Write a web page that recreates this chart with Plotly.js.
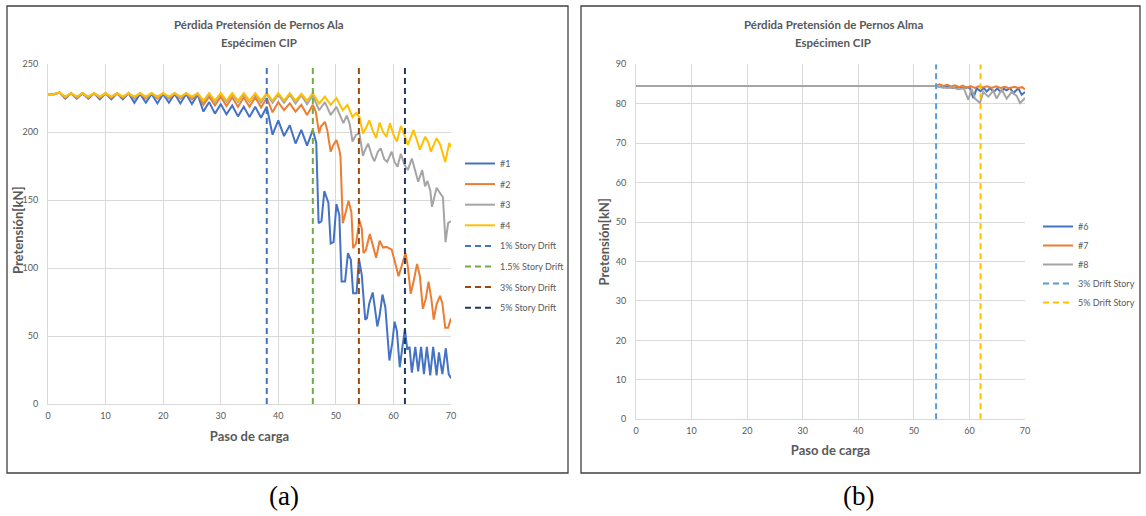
<!DOCTYPE html>
<html>
<head>
<meta charset="utf-8">
<script src="https://cdn.plot.ly/plotly-3.0.1.min.js"></script>
<style>
html,body{margin:0;padding:0;background:#fff;}
#chart{width:1146px;height:516px;}
</style>
</head>
<body>
<div id="chart"></div>
<script>
// ---------------- DATA ----------------
// Panel (a): Pérdida Pretensión de Pernos Ala
const a1x = [0,1,2,3,4,5,6,7,8,9,10,11,12,13,14,15,16,17,18,19,20,21,22,23,24,25,26,27,28,29,30,31,32,33,34,35,36,37,38,39,40,41,42,43,44,45,46,
  46.6,47,47.5,48,48.4,48.7,49.1,49.6,50.1,50.6,51,51.6,52.1,52.6,53,53.6,54,54.5,55.1,55.4,55.8,56.4,56.8,57.2,57.6,58.1,58.6,59,59.3,59.8,
  60.2,60.6,61.1,61.5,62,62.4,62.8,63.2,63.8,64.3,64.8,65.3,65.8,66.4,66.9,67.5,67.9,68.5,69.1,69.6,70];
const a1y = [227.7,227.7,229,224.5,228.5,224.5,228.5,224.5,228.5,224,228.5,224,228.5,224,228.5,221.5,228,221.5,228,221,228,221.5,228,221,228,220.5,227.5,215,222,213.5,
  220.5,213,219.5,211.5,218.5,211,218.5,210.5,218.5,198,208.5,197,205,191.5,201.5,190,201.5,
  192,133,134.5,156.5,151,148,118,119,147,139,90,90,111,106,81.5,81.5,107,95,62,63,74,82,70,57,65,80.5,71,48,32,45,
  60.5,54,27,40,55,40,42,23,42,24,42,22,42,21,42,21,38,22,41,22,19];

const a2x = [0,1,2,3,4,5,6,7,8,9,10,11,12,13,14,15,16,17,18,19,20,21,22,23,24,25,26,27,28,29,30,31,32,33,34,35,36,37,38,39,40,41,42,43,44,45,46,
  46.5,47.1,47.4,48.1,48.5,49.1,49.5,50.1,50.6,50.8,51.2,51.5,52.2,52.7,53,53.5,54.1,54.5,54.8,55.2,
  55.9,56.4,57,57.6,58.2,58.8,59.7,60.9,61.5,62.1,62.5,63,63.5,64.1,64.6,65.1,65.6,66.1,66.6,67,67.5,68.1,68.5,69,69.5,70];
const a2y = [227.7,227.7,229,225,228.5,225,228.5,225,228.5,225,228.5,225,228.5,225,228.5,224.5,228.5,224.5,228.5,224.5,228.5,224.5,228.5,224.5,228.5,224,228,220,226,219.5,
  226,219,225.5,218.5,225.5,218.5,225.5,218,225,214.5,222,216,221,215,220,212.5,220,
  215,199,204,207.5,201.5,185.5,190,194,187,182,133,137.5,149.5,141,114.5,118,135,129,111,113,
  125,117,107.5,120,115,115.5,113.5,94,102.5,111,101,81,90,103,94,70,77,90,77,62,73.5,79.5,74,56,56,63];

const a3x = [0,1,2,3,4,5,6,7,8,9,10,11,12,13,14,15,16,17,18,19,20,21,22,23,24,25,26,27,28,29,30,31,32,33,34,35,36,37,38,39,40,41,42,43,44,45,46,
  47.1,48.1,49.1,50.1,51.3,51.9,52.4,52.9,53.5,54.1,54.7,55.1,55.6,56.3,56.7,57.3,57.8,58.4,58.9,59.7,
  60.2,60.7,61.3,61.9,62.5,63.2,63.7,64.3,65,65.5,65.9,66.4,66.7,67.1,67.5,68.1,68.6,69.05,69.5,70];
const a3y = [227.7,227.7,229,225.5,228.5,225.5,228.5,225.5,228.5,225.5,228.5,225.5,228.5,225.5,228.5,225,228.5,225,228.5,225,228.5,225,228.5,225,228.5,225,228.5,222,228,222,
  228,222,228,222,228,222,228,221.5,228,221.5,227.5,221.5,227.5,221,227,220.5,227,
  216,222,212.5,218.5,206.5,212,206,193,198,199,182.5,187,191.5,182,178.5,185.5,188,180,178,185.5,
  178,174.5,184,176,172,180.5,172,163.5,172,160,164,157,145,153,159,155,152,119,133,134.5];

const a4x = [0,1,2,3,4,5,6,7,8,9,10,11,12,13,14,15,16,17,18,19,20,21,22,23,24,25,26,27,28,29,30,31,32,33,34,35,36,37,38,39,40,41,42,43,44,45,46,
  47.1,48.1,49.1,50.1,51.2,52,52.9,53.5,54.1,54.7,55.2,55.8,56.4,57,57.6,58.2,58.8,59.4,60,60.6,
  61.3,61.9,62.5,63.5,64,64.6,65.5,66.1,66.5,67.5,68.1,69,69.7,70];
const a4y = [227.7,227.7,229,226,228.5,226,228.5,226,228.5,226,228.5,226,228.5,226,228.5,226,228.5,226,228.5,226,228.5,226,228.5,226,228.5,226,228.5,223,228.5,223,
  228.5,223,228.5,223,228.5,223,228.5,223,228.5,223,228.5,223,228.5,223,228,223,228.5,
  221,226,220,225,216,220,211,214,211,199,202.5,208.5,201,195.5,207,200,196.5,206.5,198,193,
  204.5,198,190.5,201.5,194,187,196.5,192,185.5,195.5,191,178,192,189];

const aNames = ['#1','#2','#3','#4'];
const aDriftSteps = [38,46,54,62];
const aDriftNames = ['1% Story Drift','1.5% Story Drift','3% Story Drift','5% Story Drift'];
const aYMax = 250;

// Panel (b): Pérdida Pretensión de Pernos Alma
const b6x = [0,54,55.3,56,57,58,59,59.5,60.1,60.7,61.3,62,62.6,63.1,63.7,64.4,65,65.6,66.2,66.7,67.3,67.9,68.8,69.4,70];
const b6y = [84.5,84.5,84.1,84.4,84,84.3,83.9,84.2,84,81.4,83.9,83.2,84,83.1,83.9,83,83.9,83,83.8,83.4,84,82.7,83.9,82.3,83];
const b7x = [0,54,54.6,55.3,56,56.7,57.4,58.1,58.8,59.5,60.2,61,61.7,62.4,63.2,64,64.8,65.6,66.4,67.2,68,68.8,69.5,70];
const b7y = [84.5,84.5,84.9,84.5,84.8,84.4,84.7,84.2,84.6,84.1,84.5,84,84.4,84.1,84.4,84,84.4,84,84.3,83.9,84.3,84,84.2,83.6];
const b8x = [0,54,55,56,57,58,59,59.8,60.4,61,61.9,62.5,63.4,64.3,64.9,65.8,66.7,67.6,68.5,69.1,69.7,70];
const b8y = [84.5,84.5,84.2,84,84.1,83.7,83.9,81,83.8,81.3,80.2,83,81.8,83.3,81.3,83.6,81.3,83,82,80.2,81,81.5];

const bNames = ['#6','#7','#8'];
const bDriftSteps = [54,62];
const bDriftNames = ['3% Drift Story','5% Drift Story'];
const bYMax = 90;

// Texts
const titleA = ['Pérdida Pretensión de Pernos Ala','Espécimen CIP'];
const titleB = ['Pérdida Pretensión de Pernos Alma','Espécimen CIP'];
const xTitle = 'Paso de carga';
const yTitle = 'Pretensión[kN]';

// ---------------- STYLE ----------------
const W = 1146, H = 516;
const px = x => x / W;
const py = y => 1 - y / H;
const seriesColors = ['#4472C4','#ED7D31','#A5A5A5','#FFC000'];
const aDriftColors = ['#4472C4','#70AD47','#9E480E','#1F3864'];
const bDriftColors = ['#5B9BD5','#FFC000'];
const txt = '#595959';
const grid = '#D9D9D9';
const FONT = 'Lato, "Open Sans", sans-serif';
const SERIF = '"Liberation Serif", "DejaVu Serif", serif';

const traces = [];
const aX = [a1x,a2x,a3x,a4x], aY = [a1y,a2y,a3y,a4y];
aNames.forEach((n,i) => traces.push({
  type:'scatter', mode:'lines', name:n, x:aX[i], y:aY[i], xaxis:'x', yaxis:'y',
  line:{color:seriesColors[i], width:2}, legend:'legend', legendgroup:'a'+i
}));
aDriftSteps.forEach((s,i) => traces.push({
  type:'scatter', mode:'lines', name:aDriftNames[i], x:[s,s], y:[0,aYMax], xaxis:'x', yaxis:'y',
  line:{color:aDriftColors[i], width:2, dash:'6px,4px'}, legend:'legend', legendgroup:'ad'+i
}));

const bX = [b6x,b7x,b8x], bY = [b6y,b7y,b8y];
bNames.forEach((n,i) => traces.push({
  type:'scatter', mode:'lines', name:n, x:bX[i], y:bY[i], xaxis:'x2', yaxis:'y2',
  line:{color:seriesColors[i], width:2}, legend:'legend2', legendgroup:'b'+i
}));
bDriftSteps.forEach((s,i) => traces.push({
  type:'scatter', mode:'lines', name:bDriftNames[i], x:[s,s], y:[0,bYMax], xaxis:'x2', yaxis:'y2',
  line:{color:bDriftColors[i], width:2, dash:'6px,4px'}, legend:'legend2', legendgroup:'bd'+i
}));

const axTitleFont = {family:FONT, size:13, color:txt, weight:'bold'};
function xAxis(dom, anchor, standoff){
  return {domain:dom, anchor:anchor, range:[0,70], tick0:0, dtick:10, showgrid:true, gridcolor:grid, gridwidth:1,
    zeroline:false, showline:true, linecolor:grid, linewidth:1, ticks:'', ticklabelstandoff:3,
    tickfont:{family:FONT, size:9, color:txt}, fixedrange:true,
    title:{text:xTitle, standoff:standoff, font:axTitleFont}};
}
function yAxis(dom, anchor, ymax, dt, title, standoff){
  return {domain:dom, anchor:anchor, range:[0,ymax], tick0:0, dtick:dt, showgrid:true, gridcolor:grid, gridwidth:1,
    zeroline:false, showline:true, linecolor:grid, linewidth:1, ticks:'', ticklabelstandoff:7,
    tickfont:{family:FONT, size:9, color:txt}, fixedrange:true,
    title:{text:title, standoff:standoff, font:axTitleFont}};
}

function ann(x, y, text, font, extra){
  return Object.assign({xref:'paper', yref:'paper', x:px(x), y:py(y), xanchor:'center', yanchor:'middle',
    showarrow:false, text:text, font:font}, extra || {});
}
const titleFont = {family:FONT, size:11.5, color:txt, weight:'bold'};

const layout = {
  width:W, height:H, margin:{l:0,r:0,t:0,b:0}, paper_bgcolor:'#fff', plot_bgcolor:'#fff',
  font:{family:FONT, color:txt}, showlegend:true,
  xaxis: xAxis([px(48),px(451)], 'y', 12),
  // left y-axis title drawn as an annotation (needs to sit closer than Plotly's minimum standoff)
  yaxis: yAxis([py(404),py(64)], 'x', aYMax, 50, '', 0),
  xaxis2: xAxis([px(636),px(1025)], 'y2', 10),
  yaxis2: yAxis([py(419.3),py(64.3)], 'x2', bYMax, 10, yTitle, 3),
  legend:{x:px(460), y:py(149), xanchor:'left', yanchor:'top', bgcolor:'rgba(0,0,0,0)', borderwidth:0,
    font:{family:FONT, size:9, color:txt}, traceorder:'grouped', tracegroupgap:1.6},
  legend2:{x:px(1038), y:py(212), xanchor:'left', yanchor:'top', bgcolor:'rgba(0,0,0,0)', borderwidth:0,
    font:{family:FONT, size:9, color:txt}, traceorder:'grouped', tracegroupgap:0},
  shapes:[
    {type:'rect', xref:'paper', yref:'paper', x0:px(7), x1:px(568), y0:py(473), y1:py(6), line:{color:'#404040', width:1.3}},
    {type:'rect', xref:'paper', yref:'paper', x0:px(581), x1:px(1140), y0:py(473), y1:py(6), line:{color:'#404040', width:1.3}}
  ],
  annotations:[
    ann(259, 25, titleA[0], titleFont),
    ann(259, 42, titleA[1], titleFont),
    ann(833, 25, titleB[0], titleFont),
    ann(833, 42, titleB[1], titleFont),
    ann(18, 231, yTitle, axTitleFont, {textangle:-90}),
    ann(284, 496, '(a)', {family:SERIF, size:27, color:'#000'}),
    ann(858, 496, '(b)', {family:SERIF, size:27, color:'#000'})
  ]
};

Plotly.newPlot('chart', traces, layout, {displayModeBar:false, staticPlot:true});
</script>
</body>
</html>
